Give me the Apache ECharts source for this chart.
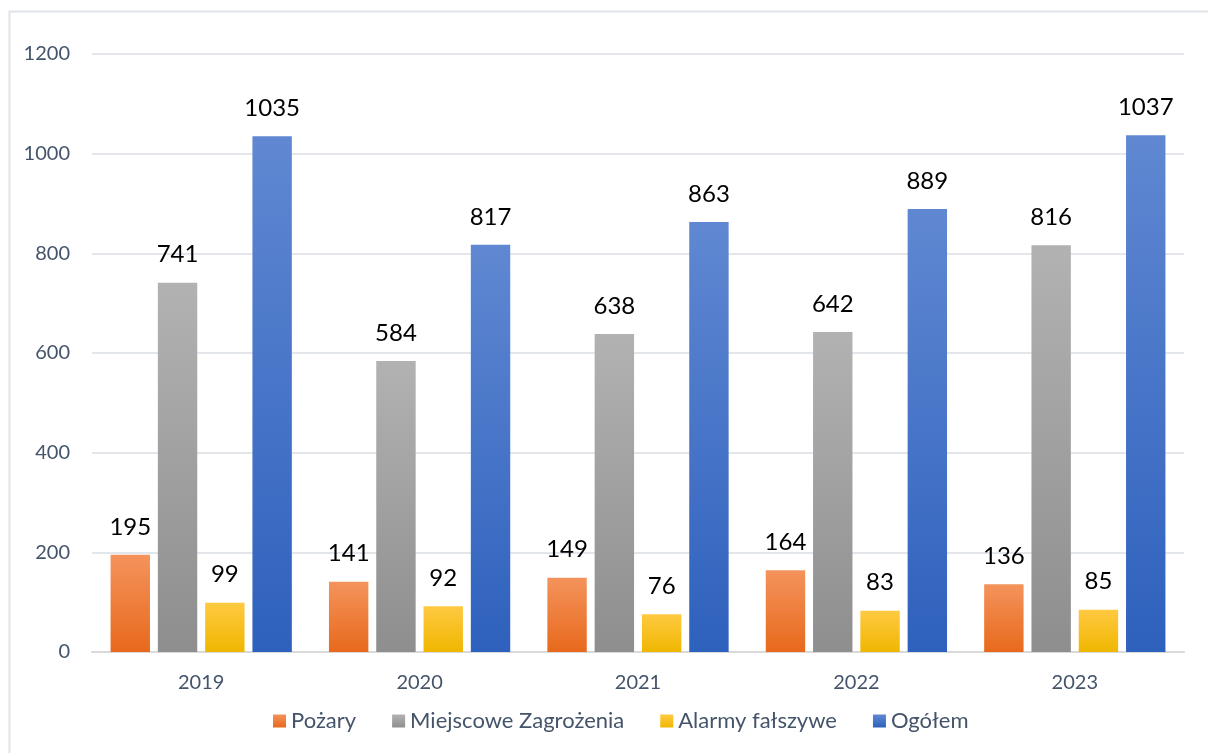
<!DOCTYPE html>
<html>
<head>
<meta charset="utf-8">
<script src="https://cdn.jsdelivr.net/npm/echarts@6/dist/echarts.min.js"></script>
<style>
  html, body { margin: 0; padding: 0; background: #fff; }
  #chart { width: 1208px; height: 753px; }
</style>
</head>
<body>
<div id="chart"></div>
<script>
// Data
const years = ["2019", "2020", "2021", "2022", "2023"];
const pozary = [195, 141, 149, 164, 136];
const miejscowe = [741, 584, 638, 642, 816];
const alarmy = [99, 92, 76, 83, 85];
const ogolem = [1035, 817, 863, 889, 1037];
const yTicks = [0, 200, 400, 600, 800, 1000, 1200];

const font = "Lato, 'Liberation Sans', sans-serif";

// vertical gradient, light on top and darker at the bottom
const grad = (top, bottom) =>
  new echarts.graphic.LinearGradient(0, 0, 0, 1, [
    { offset: 0, color: top },
    { offset: 1, color: bottom },
  ]);

const makeSeries = (name, data, top, bottom) => ({
  name,
  type: "bar",
  data,
  barGap: "20%",
  barCategoryGap: "17%",
  itemStyle: { color: grad(top, bottom) },
  label: {
    show: true,
    position: "top",
    distance: 16,
    color: "#000",
    fontSize: 24,
    fontFamily: font,
  },
});

const chart = echarts.init(document.getElementById("chart"));
chart.setOption({
  animation: false,
  graphic: [
    {
      type: "rect",
      shape: { x: 9.5, y: 11.5, width: 1210, height: 760 },
      style: { fill: "none", stroke: "#dfe3ea", lineWidth: 2 },
    },
  ],
  grid: { left: 92, right: 24, top: 54, bottom: 101 },
  legend: {
    bottom: 16,
    left: 268,
    itemWidth: 13,
    itemHeight: 13,
    itemGap: 36,
    icon: "rect",
    textStyle: { color: "#44546a", fontSize: 22, fontFamily: font },
    data: ["Pożary", "Miejscowe Zagrożenia", "Alarmy fałszywe", "Ogółem"],
  },
  xAxis: {
    type: "category",
    data: years,
    axisTick: { show: false },
    axisLine: { lineStyle: { color: "#d9d9d9", width: 2 } },
    axisLabel: { color: "#44546a", fontSize: 20, fontFamily: font, margin: 21 },
  },
  yAxis: {
    type: "value",
    min: yTicks[0],
    max: yTicks[yTicks.length - 1],
    interval: 200,
    axisLine: { show: false },
    axisTick: { show: false },
    splitLine: { lineStyle: { color: "#e3e6eb", width: 2 } },
    axisLabel: {
      color: "#44546a",
      fontSize: 20,
      fontFamily: font,
      margin: 22,
      formatter: (v) => String(v),
    },
  },
  series: [
    makeSeries("Pożary", pozary, "#f4935c", "#e8691c"),
    makeSeries("Miejscowe Zagrożenia", miejscowe, "#b2b2b2", "#8e8e8e"),
    makeSeries("Alarmy fałszywe", alarmy, "#ffc942", "#efb700"),
    makeSeries("Ogółem", ogolem, "#6088d2", "#2e61bd"),
  ],
});
</script>
</body>
</html>
